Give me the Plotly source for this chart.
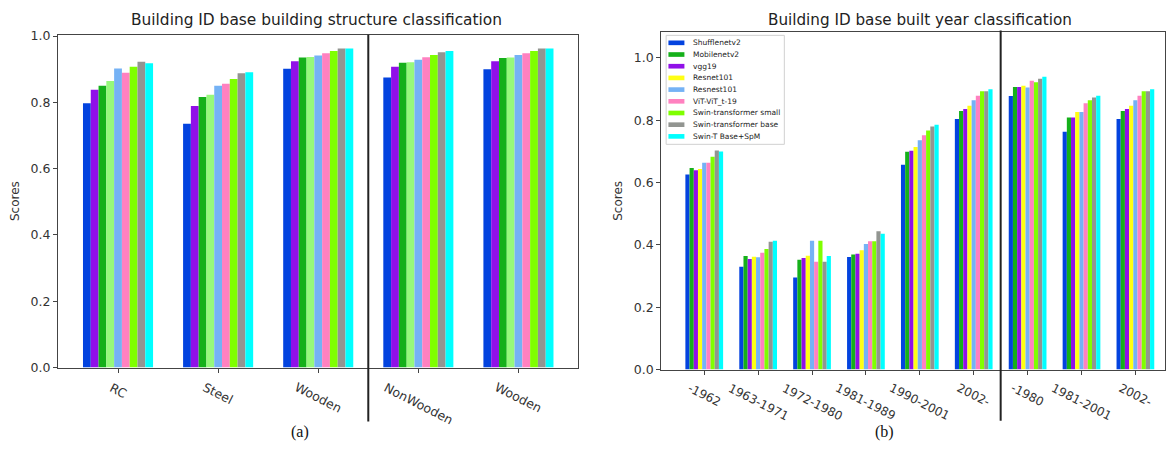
import plotly.graph_objects as go

# ---------------- data ----------------
left_categories = ["RC", "Steel", "Wooden", "NonWooden", "Wooden"]
left_series_names = ["blue", "purple", "green", "light green", "light blue",
                     "pink", "lime", "grey", "cyan"]
left_s1 = [0.797, 0.735, 0.901, 0.875, 0.900]
left_s2 = [0.838, 0.789, 0.924, 0.907, 0.924]
left_s3 = [0.850, 0.816, 0.935, 0.919, 0.934]
left_s4 = [0.864, 0.823, 0.937, 0.921, 0.935]
left_s5 = [0.902, 0.850, 0.941, 0.928, 0.943]
left_s6 = [0.889, 0.856, 0.948, 0.936, 0.948]
left_s7 = [0.907, 0.870, 0.955, 0.943, 0.955]
left_s8 = [0.922, 0.888, 0.962, 0.951, 0.962]
left_s9 = [0.918, 0.891, 0.962, 0.955, 0.962]
left_values = [left_s1, left_s2, left_s3, left_s4, left_s5, left_s6, left_s7, left_s8, left_s9]
left_colors = ["#0343DF", "#9010E8", "#15B01A", "#96F97B", "#75B2F5",
               "#FF81C0", "#7FFF00", "#929591", "#00FFFF"]

right_categories = ["-1962", "1963-1971", "1972-1980", "1981-1989", "1990-2001",
                    "2002-", "-1980", "1981-2001", "2002-"]
model_names = ["Shufflenetv2", "Mobilenetv2", "vgg19", "Resnet101", "Resnest101",
               "ViT-ViT_t-19", "Swin-transformer small", "Swin-transformer base",
               "Swin-T Base+SpM"]
shufflenetv2 = [0.626, 0.330, 0.295, 0.361, 0.657, 0.804, 0.878, 0.763, 0.804]
mobilenetv2 = [0.647, 0.364, 0.352, 0.369, 0.699, 0.830, 0.907, 0.809, 0.830]
vgg19 = [0.640, 0.355, 0.358, 0.372, 0.702, 0.836, 0.907, 0.809, 0.836]
resnet101 = [0.644, 0.362, 0.365, 0.383, 0.714, 0.847, 0.911, 0.827, 0.847]
resnest101 = [0.664, 0.360, 0.413, 0.403, 0.736, 0.864, 0.905, 0.827, 0.864]
vit = [0.664, 0.375, 0.346, 0.412, 0.752, 0.879, 0.927, 0.855, 0.879]
swin_small = [0.683, 0.387, 0.413, 0.412, 0.767, 0.893, 0.922, 0.864, 0.893]
swin_base = [0.703, 0.410, 0.346, 0.444, 0.780, 0.893, 0.933, 0.873, 0.893]
swin_spm = [0.700, 0.413, 0.364, 0.436, 0.786, 0.900, 0.940, 0.879, 0.900]
right_values = [shufflenetv2, mobilenetv2, vgg19, resnet101, resnest101, vit,
                swin_small, swin_base, swin_spm]
right_colors = ["#0343DF", "#15B01A", "#9010E8", "#FFFF14", "#75B2F5",
                "#FF81C0", "#7FFF00", "#929591", "#00FFFF"]

left_title = "Building ID base building structure classification"
right_title = "Building ID base built year classification"
y_ticks = [0.0, 0.2, 0.4, 0.6, 0.8, 1.0]

# ---------------- figure ----------------
# The html body has an 8px default margin; size the figure so the page
# exactly fills the 1174x457 window, and place things in window pixels.
VW, VH = 1174, 457
OFF = 8
W, H = VW - 2 * OFF, VH - 2 * OFF

def px_x(p):
    return (p - OFF) / W

def px_y(p):
    return 1 - (p - OFF) / H

fig = go.Figure()
for name, vals, col in zip(left_series_names, left_values, left_colors):
    fig.add_trace(go.Bar(x=list(range(len(left_categories))), y=vals, name=name,
                         marker=dict(color=col, line=dict(width=0)),
                         showlegend=False, xaxis="x", yaxis="y"))
for name, vals, col in zip(model_names, right_values, right_colors):
    fig.add_trace(go.Bar(x=list(range(len(right_categories))), y=vals, name=name,
                         marker=dict(color=col, line=dict(width=0)),
                         showlegend=False, xaxis="x2", yaxis="y2"))

FONT = "DejaVu Sans"
axis_common = dict(showgrid=False, zeroline=False, showline=True, mirror=True,
                   linecolor="#444", linewidth=1, ticks="outside", ticklen=4,
                   tickcolor="#444", tickfont=dict(family=FONT, size=12.5, color="#333"))
ytitle_font = dict(family=FONT, size=12, color="#333")

fig.update_layout(
    width=W, height=H, margin=dict(l=0, r=0, t=0, b=0),
    paper_bgcolor="white", plot_bgcolor="white",
    barmode="group", bargap=0.3, bargroupgap=0,
    showlegend=False,
    xaxis=dict(domain=[px_x(58), px_x(578)], range=[-0.6, 4.59],
               tickvals=list(range(len(left_categories))), showticklabels=False,
               anchor="y", **axis_common),
    yaxis=dict(domain=[px_y(372.3), px_y(29.3)], range=[0, 1.004],
               tickvals=y_ticks, tickformat=".1f", anchor="x",
               title=dict(text="Scores", font=ytitle_font, standoff=8),
               **axis_common),
    xaxis2=dict(domain=[px_x(661.7), px_x(1165.5)], range=[-0.8, 8.54],
                tickvals=list(range(len(right_categories))), showticklabels=False,
                anchor="y2", **axis_common),
    yaxis2=dict(domain=[px_y(374.3), px_y(26.7)], range=[0, 1.083],
                tickvals=y_ticks, tickformat=".1f", anchor="x2",
                title=dict(text="Scores", font=ytitle_font, standoff=8),
                **axis_common),
)

annotations = []
shapes = []

# titles
annotations.append(dict(text=left_title, x=px_x(317), y=px_y(14.5), xref="paper", yref="paper",
                        xanchor="center", yanchor="middle", showarrow=False,
                        font=dict(family=FONT, size=15.4, color="#222")))
annotations.append(dict(text=right_title, x=px_x(921), y=px_y(14.5), xref="paper", yref="paper",
                        xanchor="center", yanchor="middle", showarrow=False,
                        font=dict(family=FONT, size=15.2, color="#222")))

# rotated category labels
for i, lab in enumerate(left_categories):
    annotations.append(dict(text=lab, x=i, xref="x", y=px_y(382), yref="paper",
                            xanchor="center", yanchor="top", textangle=27, showarrow=False,
                            font=dict(family=FONT, size=12.5, color="#333")))
for i, lab in enumerate(right_categories):
    annotations.append(dict(text=lab, x=i, xref="x2", y=px_y(383), yref="paper",
                            xanchor="center", yanchor="top", textangle=27, showarrow=False,
                            font=dict(family=FONT, size=12, color="#333")))

# captions
annotations.append(dict(text="(a)", x=px_x(300), y=px_y(439), xref="paper", yref="paper",
                        xanchor="center", yanchor="middle", showarrow=False,
                        font=dict(family="Liberation Serif", size=16, color="#111")))
annotations.append(dict(text="(b)", x=px_x(885), y=px_y(439), xref="paper", yref="paper",
                        xanchor="center", yanchor="middle", showarrow=False,
                        font=dict(family="Liberation Serif", size=16, color="#111")))

# group dividers
shapes.append(dict(type="line", xref="x", yref="paper", x0=2.5, x1=2.5,
                   y0=px_y(428), y1=px_y(29.3), line=dict(color="#222", width=2)))
shapes.append(dict(type="line", xref="x2", yref="paper", x0=5.5, x1=5.5,
                   y0=px_y(427), y1=px_y(25), line=dict(color="#222", width=2)))

# legend box (compact, matplotlib style)
lx0, lx1, ly0, ly1 = 666.7, 785, 30, 142.3
shapes.append(dict(type="rect", xref="paper", yref="paper", x0=px_x(lx0), x1=px_x(lx1),
                   y0=px_y(ly1), y1=px_y(ly0), line=dict(color="#d0d0d0", width=1),
                   fillcolor="rgba(255,255,255,0.85)", layer="above"))
row0, step = 37.7, 12.05
for k, (name, col) in enumerate(zip(model_names, right_colors)):
    cy = row0 + k * step
    shapes.append(dict(type="rect", xref="paper", yref="paper",
                       x0=px_x(669), x1=px_x(685), y0=px_y(cy + 2.4), y1=px_y(cy - 2.4),
                       fillcolor=col, line=dict(width=0), layer="above"))
    annotations.append(dict(text=name, x=px_x(691.5), y=px_y(cy), xref="paper", yref="paper",
                            xanchor="left", yanchor="middle", showarrow=False,
                            font=dict(family=FONT, size=7.5, color="#222")))

fig.update_layout(annotations=annotations, shapes=shapes)
fig.write_html("out.html")
